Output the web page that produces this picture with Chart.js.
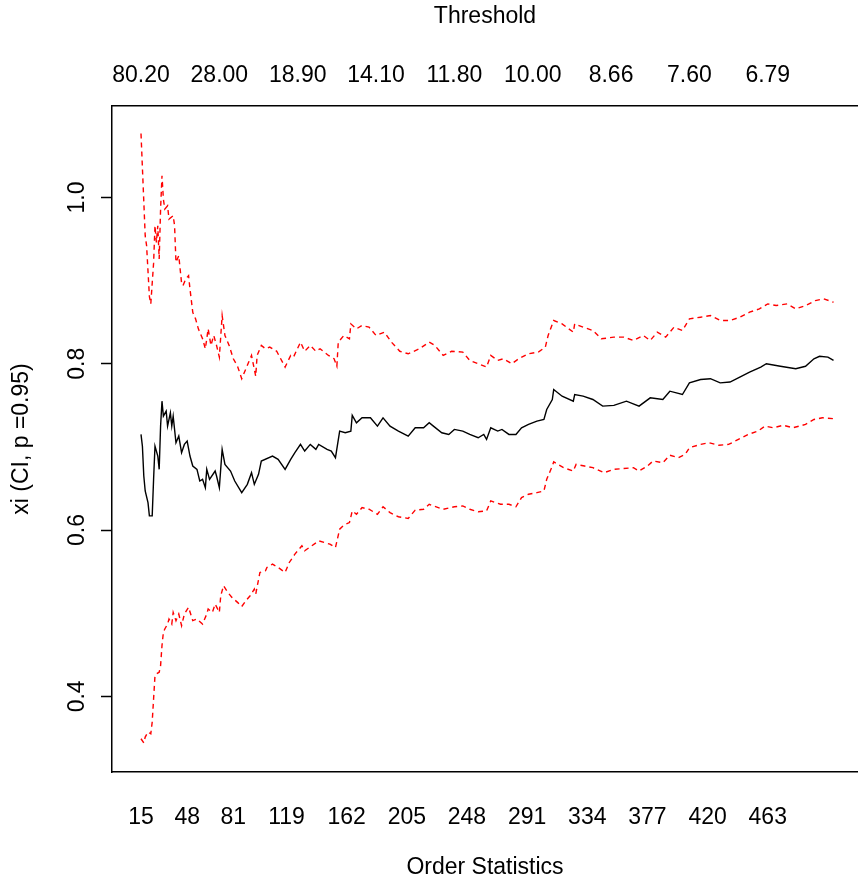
<!DOCTYPE html>
<html>
<head>
<meta charset="utf-8">
<title>Hill plot</title>
<script src="https://cdn.jsdelivr.net/npm/chart.js@4.4.0/dist/chart.umd.min.js"></script>
<style>
  html, body { margin: 0; padding: 0; background: #fff; overflow: hidden; }
  #wrap { width: 858px; height: 886px; }
</style>
</head>
<body>
<div id="wrap"><canvas id="hill" width="858" height="886"></canvas></div>
<script>
// order statistics (k) and xi estimates
const kMid = [15,16,17,18,20,21,23,24,25,27,28,29,30,31,33,34,36,37,38,40,42,44,46,48,50,52,55,57,59,61,62,64,68,69,71,73,75,79,82,87,91,94,96,99,101,109,113,118,122,125,129,132,136,140,142,148,151,154,157,161,165,166,169,173,179,184,188,193,199,206,211,217,221,224,230,235,239,245,250,256,260,262,265,270,273,278,283,287,292,298,303,305,309,310,316,324,325,331,338,345,353,362,371,379,388,393,402,407,415,422,429,436,443,450,458,462,472,483,490,496,500,506,510];
const xiMid = [0.715,0.701,0.665,0.647,0.633,0.617,0.617,0.661,0.701,0.689,0.673,0.725,0.755,0.737,0.743,0.725,0.741,0.725,0.737,0.705,0.713,0.693,0.703,0.707,0.689,0.677,0.673,0.659,0.661,0.651,0.673,0.661,0.671,0.665,0.651,0.697,0.679,0.671,0.659,0.645,0.655,0.669,0.655,0.667,0.683,0.689,0.685,0.673,0.685,0.693,0.703,0.695,0.703,0.697,0.703,0.697,0.695,0.687,0.719,0.717,0.719,0.738,0.729,0.735,0.735,0.725,0.735,0.725,0.719,0.713,0.723,0.723,0.729,0.725,0.717,0.715,0.721,0.719,0.715,0.711,0.715,0.709,0.723,0.719,0.721,0.715,0.715,0.723,0.727,0.731,0.733,0.745,0.757,0.769,0.761,0.755,0.763,0.761,0.757,0.749,0.750,0.755,0.749,0.759,0.757,0.767,0.763,0.777,0.781,0.782,0.777,0.778,0.784,0.790,0.796,0.800,0.797,0.794,0.797,0.806,0.809,0.808,0.804];

const kUpper = [15,18,19,21,22,24,25,26,27,28,29,30,31,32,34,35,38,39,40,42,44,45,47,49,50,52,54,56,59,61,63,65,67,69,71,73,75,78,81,84,87,90,92,94,97,98,101,104,107,112,118,122,124,129,132,136,140,143,149,153,155,156,160,164,165,169,173,178,183,189,194,200,206,214,221,225,231,237,245,250,256,262,265,270,274,280,285,292,299,304,306,310,316,324,325,331,338,344,353,360,367,374,379,384,390,396,402,407,415,422,429,436,443,450,457,463,469,477,483,490,497,503,510];
const xiUpper = [1.077,0.954,0.942,0.881,0.872,0.921,0.966,0.946,0.966,0.926,0.986,1.026,0.998,0.986,0.990,0.974,0.978,0.966,0.922,0.930,0.897,0.894,0.902,0.906,0.890,0.862,0.854,0.842,0.830,0.818,0.842,0.822,0.834,0.822,0.808,0.858,0.834,0.822,0.806,0.797,0.782,0.794,0.802,0.810,0.785,0.810,0.822,0.818,0.820,0.815,0.796,0.810,0.808,0.826,0.815,0.822,0.815,0.818,0.810,0.806,0.797,0.826,0.834,0.830,0.848,0.842,0.846,0.844,0.834,0.838,0.826,0.815,0.812,0.818,0.826,0.822,0.810,0.815,0.814,0.804,0.800,0.796,0.810,0.804,0.806,0.800,0.806,0.812,0.814,0.820,0.834,0.852,0.848,0.838,0.848,0.844,0.840,0.830,0.832,0.832,0.828,0.834,0.828,0.838,0.832,0.844,0.840,0.854,0.856,0.858,0.852,0.852,0.856,0.862,0.866,0.872,0.870,0.872,0.866,0.870,0.876,0.878,0.874];

const kLower = [15,17,18,20,22,23,24,25,26,28,29,30,31,32,34,35,37,38,40,42,44,46,49,52,55,59,62,63,66,68,71,72,74,77,80,84,87,90,93,96,97,100,104,105,109,113,118,121,125,130,132,137,142,146,150,154,157,160,164,166,169,173,178,184,188,193,199,206,211,217,221,224,231,239,245,250,256,262,265,272,278,283,287,292,298,303,305,309,310,317,324,326,332,338,346,353,360,367,371,377,381,388,393,399,404,407,415,421,428,435,442,449,456,461,467,474,481,490,496,502,510];
const xiLower = [0.349,0.344,0.351,0.357,0.355,0.369,0.397,0.425,0.427,0.429,0.437,0.461,0.477,0.481,0.487,0.493,0.487,0.501,0.491,0.499,0.485,0.499,0.507,0.491,0.493,0.487,0.499,0.505,0.501,0.511,0.501,0.521,0.533,0.525,0.519,0.513,0.508,0.515,0.521,0.529,0.523,0.549,0.551,0.555,0.559,0.555,0.549,0.561,0.571,0.581,0.575,0.581,0.587,0.585,0.583,0.579,0.601,0.606,0.609,0.623,0.619,0.627,0.625,0.619,0.628,0.621,0.616,0.614,0.624,0.625,0.631,0.629,0.625,0.628,0.629,0.625,0.622,0.623,0.635,0.631,0.631,0.628,0.639,0.643,0.645,0.647,0.661,0.677,0.682,0.675,0.671,0.679,0.677,0.675,0.669,0.673,0.674,0.675,0.671,0.677,0.683,0.681,0.690,0.687,0.691,0.699,0.703,0.705,0.702,0.703,0.709,0.715,0.719,0.725,0.723,0.726,0.723,0.727,0.733,0.735,0.734];

// axis labels
const bottomTicks = [15,48,81,119,162,205,248,291,334,377,420,463];
const topTicks = [15,71,127,183,239,295,351,407,463];
const thresholdLabels = ['80.20','28.00','18.90','14.10','11.80','10.00','8.66','7.60','6.79'];
const yTicks = [0.4,0.6,0.8,1.0];

const FONT = '"Liberation Sans", Arial, sans-serif';
const FSIZE = 23;

const toPoints = (ks, ys) => ks.map((k, i) => ({ x: k, y: ys[i] }));

// titles and rotated y labels, R style
const textPlugin = {
    id: 'rtext',
    afterDraw(chart) {
        const ctx = chart.ctx;
        const area = chart.chartArea;
        const yScale = chart.scales.y;
        const midX = (area.left + area.right) / 2;
        const midY = (area.top + area.bottom) / 2;
        ctx.save();
        ctx.fillStyle = '#000';
        ctx.font = FSIZE + 'px ' + FONT;
        ctx.textAlign = 'center';
        ctx.textBaseline = 'middle';
        ctx.fillText('Threshold', midX, 17);
        ctx.fillText('Order Statistics', midX, 868);

        ctx.save();
        ctx.translate(22, midY);
        ctx.rotate(-Math.PI / 2);
        ctx.fillText('xi (CI, p =0.95)', 0, 0);
        ctx.restore();

        yTicks.forEach(v => {
            ctx.save();
            ctx.translate(78, yScale.getPixelForValue(v));
            ctx.rotate(-Math.PI / 2);
            ctx.fillText(v.toFixed(1), 0, 0);
            ctx.restore();
        });
        ctx.restore();
    }
};

const ctx = document.getElementById('hill').getContext('2d');
new Chart(ctx, {
    type: 'line',
    data: {
        datasets: [
            {
                label: 'xi',
                data: toPoints(kMid, xiMid),
                borderColor: '#000',
                borderWidth: 1.4,
                pointRadius: 0,
                tension: 0
            },
            {
                label: 'upper',
                data: toPoints(kUpper, xiUpper),
                borderColor: '#ff0000',
                borderWidth: 1.4,
                borderDash: [5, 4],
                pointRadius: 0,
                tension: 0
            },
            {
                label: 'lower',
                data: toPoints(kLower, xiLower),
                borderColor: '#ff0000',
                borderWidth: 1.4,
                borderDash: [5, 4],
                pointRadius: 0,
                tension: 0
            }
        ]
    },
    options: {
        responsive: false,
        animation: false,
        events: [],
        layout: { padding: 0 },
        plugins: {
            legend: { display: false },
            tooltip: { enabled: false }
        },
        scales: {
            x: {
                type: 'linear',
                position: 'bottom',
                min: -5.73,
                max: 527.5,
                grid: { display: false },
                border: { display: true, color: '#000', width: 1.5 },
                afterBuildTicks: scale => { scale.ticks = bottomTicks.map(v => ({ value: v })); },
                afterFit: scale => { scale.height = 114; },
                ticks: {
                    autoSkip: false,
                    maxRotation: 0,
                    minRotation: 0,
                    padding: 24,
                    color: '#000',
                    font: { family: FONT, size: FSIZE },
                    callback: v => String(v)
                }
            },
            x2: {
                type: 'linear',
                position: 'top',
                min: -5.73,
                max: 527.5,
                grid: { display: false },
                border: { display: true, color: '#000', width: 1.5 },
                afterBuildTicks: scale => { scale.ticks = topTicks.map(v => ({ value: v })); },
                afterFit: scale => { scale.height = 106; },
                ticks: {
                    autoSkip: false,
                    maxRotation: 0,
                    minRotation: 0,
                    padding: 9,
                    color: '#000',
                    font: { family: FONT, size: FSIZE },
                    callback: v => thresholdLabels[topTicks.indexOf(v)]
                }
            },
            y: {
                type: 'linear',
                position: 'left',
                min: 0.309,
                max: 1.110,
                afterBuildTicks: scale => { scale.ticks = yTicks.map(v => ({ value: v })); },
                afterFit: scale => { scale.width = 112; },
                grid: {
                    display: true,
                    drawOnChartArea: false,
                    drawTicks: true,
                    tickLength: 11,
                    tickWidth: 1.5,
                    tickColor: '#000',
                    color: '#000'
                },
                border: { display: true, color: '#000', width: 1.5 },
                ticks: { display: false }
            }
        }
    },
    plugins: [textPlugin]
});
</script>
</body>
</html>
